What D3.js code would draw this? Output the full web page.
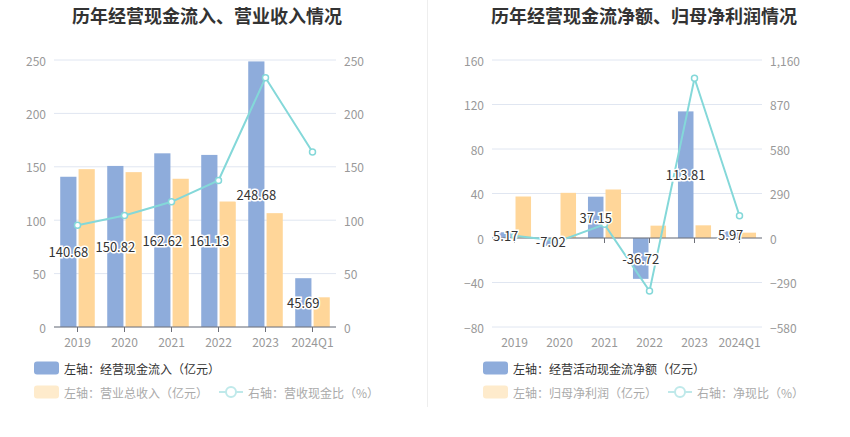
<!DOCTYPE html>
<html>
<head>
<meta charset="utf-8">
<script src="https://cdn.jsdelivr.net/npm/d3@7"></script>
<style>
  html, body { margin: 0; padding: 0; background: #fff; }
  svg { display: block; font-family: "Noto Sans CJK SC", "Noto Sans", sans-serif; }
</style>
</head>
<body>
<svg id="chart" width="850" height="437"></svg>
<script>
// 数据
const years = ['2019', '2020', '2021', '2022', '2023', '2024Q1'];

// 左图：经营现金流入、营业收入
const cashInflow = [140.68, 150.82, 162.62, 161.13, 248.68, 45.69];
const revenue = [147.8, 145.0, 138.8, 117.5, 106.6, 27.8];
const cashRevenueRatio = [95.3, 104.4, 117.2, 137.2, 233.4, 163.8];
const leftTicksA = [0, 50, 100, 150, 200, 250];
const rightTicksA = [0, 50, 100, 150, 200, 250];

// 右图：经营现金流净额、归母净利润
const netCashFlow = [5.17, -7.02, 37.15, -36.72, 113.81, 5.97];
const netProfit = [37.3, 40.6, 43.6, 11.1, 11.4, 4.8];
const cashProfitRatio = [15, -19, 89, -346, 1041, 145];
const leftTicksB = [-80, -40, 0, 40, 80, 120, 160];
const rightTicksB = [-580, -290, 0, 290, 580, 870, 1160];

const blue = '#8eacdb';
const orange = '#ffd699';
const cyan = '#84d8d9';

const svg = d3.select('#chart');

// 分隔线
svg.append('line')
  .attr('x1', 427.5).attr('x2', 427.5)
  .attr('y1', 0).attr('y2', 407)
  .attr('stroke', '#eeeeee');

function drawPanel(p) {
  const g = svg.append('g');

  // 标题
  g.append('text')
    .attr('x', p.titleX).attr('y', 15)
    .attr('text-anchor', 'middle')
    .attr('dominant-baseline', 'central')
    .attr('font-size', 18).attr('font-weight', 'bold')
    .attr('fill', '#333')
    .text(p.title);

  const x = d3.scaleBand().domain(years).range([p.x0, p.x1]);
  const yL = d3.scaleLinear().domain(d3.extent(p.leftTicks)).range([p.y1, p.y0]);
  const yR = d3.scaleLinear().domain(d3.extent(p.rightTicks)).range([p.y1, p.y0]);

  // 网格线
  g.selectAll('.grid').data(p.leftTicks).join('line')
    .attr('x1', p.x0).attr('x2', p.x1)
    .attr('y1', d => yL(d)).attr('y2', d => yL(d))
    .attr('stroke', '#e0e6f1');

  // 左轴刻度
  g.selectAll('.tl').data(p.leftTicks).join('text')
    .attr('x', p.x0 - 8).attr('y', d => yL(d))
    .attr('text-anchor', 'end').attr('dominant-baseline', 'central')
    .attr('font-size', 12).attr('fill', '#999')
    .text(d => d3.format(',')(d));

  // 右轴刻度
  g.selectAll('.tr').data(p.rightTicks).join('text')
    .attr('x', p.x1 + 8).attr('y', d => yR(d))
    .attr('text-anchor', 'start').attr('dominant-baseline', 'central')
    .attr('font-size', 12).attr('fill', '#999')
    .text(d => d3.format(',')(d));

  const bw = x.bandwidth() * 0.345;
  const gap = x.bandwidth() * 0.045;
  const cx = d => x(d) + x.bandwidth() / 2;

  // 柱子
  const zero = yL(0);
  g.selectAll('.b1').data(years).join('rect')
    .attr('x', (d) => cx(d) - gap / 2 - bw)
    .attr('width', bw)
    .attr('y', (d, i) => Math.min(yL(p.bars1[i]), zero))
    .attr('height', (d, i) => Math.abs(yL(p.bars1[i]) - zero))
    .attr('fill', blue);
  g.selectAll('.b2').data(years).join('rect')
    .attr('x', (d) => cx(d) + gap / 2)
    .attr('width', bw)
    .attr('y', (d, i) => Math.min(yL(p.bars2[i]), zero))
    .attr('height', (d, i) => Math.abs(yL(p.bars2[i]) - zero))
    .attr('fill', orange);

  // X 轴线与刻度
  g.append('line')
    .attr('x1', p.x0).attr('x2', p.x1)
    .attr('y1', zero).attr('y2', zero)
    .attr('stroke', '#6e7079');
  g.selectAll('.xt').data(years).join('line')
    .attr('x1', d => cx(d)).attr('x2', d => cx(d))
    .attr('y1', zero).attr('y2', zero + 5)
    .attr('stroke', '#6e7079');
  g.selectAll('.xl').data(years).join('text')
    .attr('x', d => cx(d)).attr('y', p.y1 + 14)
    .attr('text-anchor', 'middle').attr('dominant-baseline', 'central')
    .attr('font-size', 12).attr('fill', '#999')
    .text(d => d);

  // 折线
  const line = d3.line()
    .x((d, i) => cx(years[i]))
    .y(d => yR(d));
  g.append('path')
    .datum(p.ratio)
    .attr('fill', 'none')
    .attr('stroke', cyan)
    .attr('stroke-width', 2)
    .attr('d', line);
  g.selectAll('.pt').data(p.ratio).join('circle')
    .attr('cx', (d, i) => cx(years[i]))
    .attr('cy', d => yR(d))
    .attr('r', 3)
    .attr('fill', '#fff')
    .attr('stroke', cyan)
    .attr('stroke-width', 1.5);

  // 数值标签（柱中间）
  g.selectAll('.lb').data(p.bars1).join('text')
    .attr('x', (d, i) => cx(years[i]) - gap / 2 - bw / 2)
    .attr('y', d => (yL(d) + zero) / 2)
    .attr('text-anchor', 'middle').attr('dominant-baseline', 'central')
    .attr('font-size', 13).attr('fill', '#333')
    .attr('stroke', '#fff').attr('stroke-width', 3)
    .attr('paint-order', 'stroke')
    .text(d => d.toFixed(2));

  // 图例
  const lg = g.append('g').attr('font-size', 12);
  lg.append('rect')
    .attr('x', p.legendX).attr('y', 361.5)
    .attr('width', 25).attr('height', 13).attr('rx', 3)
    .attr('fill', blue);
  lg.append('text')
    .attr('x', p.legendX + 30).attr('y', 368)
    .attr('dominant-baseline', 'central').attr('fill', '#333')
    .text(p.legend[0]);

  lg.append('rect')
    .attr('x', p.legendX).attr('y', 385.5)
    .attr('width', 25).attr('height', 13).attr('rx', 3)
    .attr('fill', '#feebcc');
  lg.append('text')
    .attr('x', p.legendX + 30).attr('y', 392)
    .attr('dominant-baseline', 'central').attr('fill', '#aaa')
    .text(p.legend[1]);

  lg.append('line')
    .attr('x1', p.iconX).attr('x2', p.iconX + 24)
    .attr('y1', 392).attr('y2', 392)
    .attr('stroke', '#bfe9ea').attr('stroke-width', 2);
  lg.append('circle')
    .attr('cx', p.iconX + 12).attr('cy', 392).attr('r', 5)
    .attr('fill', '#fff').attr('stroke', '#bfe9ea').attr('stroke-width', 2);
  lg.append('text')
    .attr('x', p.iconX + 29).attr('y', 392)
    .attr('dominant-baseline', 'central').attr('fill', '#aaa')
    .text(p.legend[2]);
}

drawPanel({
  title: '历年经营现金流入、营业收入情况',
  titleX: 207,
  x0: 54, x1: 336, y0: 60, y1: 327,
  leftTicks: leftTicksA, rightTicks: rightTicksA,
  bars1: cashInflow, bars2: revenue, ratio: cashRevenueRatio,
  legendX: 34, iconX: 219,
  legend: ['左轴：经营现金流入（亿元）', '左轴：营业总收入（亿元）', '右轴：营收现金比（%）']
});

drawPanel({
  title: '历年经营现金流净额、归母净利润情况',
  titleX: 644,
  x0: 492, x1: 762, y0: 60, y1: 327,
  leftTicks: leftTicksB, rightTicks: rightTicksB,
  bars1: netCashFlow, bars2: netProfit, ratio: cashProfitRatio,
  legendX: 483, iconX: 668,
  legend: ['左轴：经营活动现金流净额（亿元）', '左轴：归母净利润（亿元）', '右轴：净现比（%）']
});
</script>
</body>
</html>
